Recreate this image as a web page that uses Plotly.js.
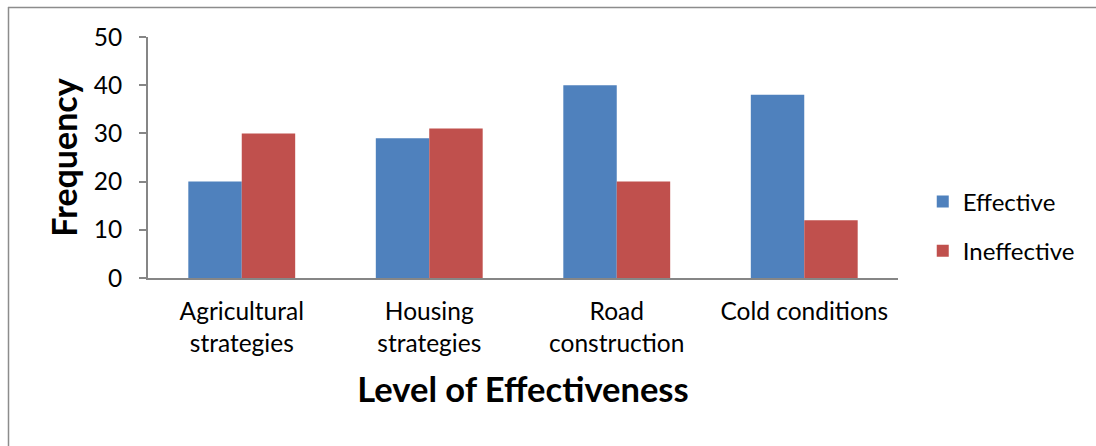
<!DOCTYPE html>
<html>
<head>
<meta charset="utf-8">
<script src="https://cdn.plot.ly/plotly-3.0.1.min.js"></script>
<style>
  html, body { margin: 0; padding: 0; background: #ffffff; }
  #chart { width: 1096px; height: 446px; }
</style>
</head>
<body>
<div id="chart"></div>
<script>
// Survey responses on how effective each strategy is
const categories = ['Agricultural<br>strategies', 'Housing<br>strategies', 'Road<br>construction', 'Cold conditions'];
const effective = [20, 29, 40, 38];
const ineffective = [30, 31, 20, 12];
const yTicks = [0, 10, 20, 30, 40, 50];

const FONT = 'Lato, "Open Sans", sans-serif';
const TEXT_SIZE = 24.5;

const traces = [
  { type: 'bar', name: 'Effective', x: categories, y: effective, legendgroup: 'eff',
    marker: { color: '#4F81BD' }, hoverinfo: 'x+y' },
  { type: 'bar', name: 'Ineffective', x: categories, y: ineffective, legendgroup: 'ineff',
    marker: { color: '#C0504D' }, hoverinfo: 'x+y' }
];

const layout = {
  width: 1096, height: 446,
  margin: { l: 148, r: 198, t: 37, b: 168, pad: 0 },
  paper_bgcolor: '#ffffff', plot_bgcolor: '#ffffff',
  font: { family: FONT, color: '#000000', size: TEXT_SIZE },
  barmode: 'group',
  bargap: 0.43, bargroupgap: 0,
  showlegend: true,
  legend: { x: 1.033, y: 0.214, xanchor: 'left', yanchor: 'middle',
            font: { family: FONT, size: 24, color: '#000' },
            traceorder: 'grouped', tracegroupgap: 15, itemwidth: 30 },
  xaxis: {
    type: 'category',
    showline: true, linecolor: '#868686', linewidth: 2,
    ticks: '', showgrid: false, zeroline: false,
    tickfont: { family: FONT, size: TEXT_SIZE, color: '#000' },
    ticklabelstandoff: 11,
    title: { text: 'Level of Effectiveness', standoff: 22,
             font: { family: FONT, size: 34.5, color: '#000', weight: 'bold' } }
  },
  yaxis: {
    range: [0, 50], tickvals: yTicks,
    showline: true, linecolor: '#868686', linewidth: 2,
    ticks: 'outside', ticklen: 7, tickwidth: 2, tickcolor: '#868686',
    showgrid: false, zeroline: false,
    tickfont: { family: FONT, size: TEXT_SIZE, color: '#000' },
    ticklabelstandoff: 12,
    title: { text: 'Frequency', standoff: 6,
             font: { family: FONT, size: 34, color: '#000', weight: 'bold' } }
  },
  shapes: [
    { type: 'line', xref: 'paper', yref: 'paper',
      x0: (8 - 148) / 750, x1: (1100 - 148) / 750,
      y0: (278 - 7.5) / 241, y1: (278 - 7.5) / 241,
      line: { color: '#8c8c8c', width: 1.5 } },
    { type: 'line', xref: 'paper', yref: 'paper',
      x0: (8.5 - 148) / 750, x1: (8.5 - 148) / 750,
      y0: (278 - 7) / 241, y1: (278 - 450) / 241,
      line: { color: '#8c8c8c', width: 1.5 } }
  ]
};

Plotly.newPlot('chart', traces, layout, { displayModeBar: false, staticPlot: true });
</script>
</body>
</html>
